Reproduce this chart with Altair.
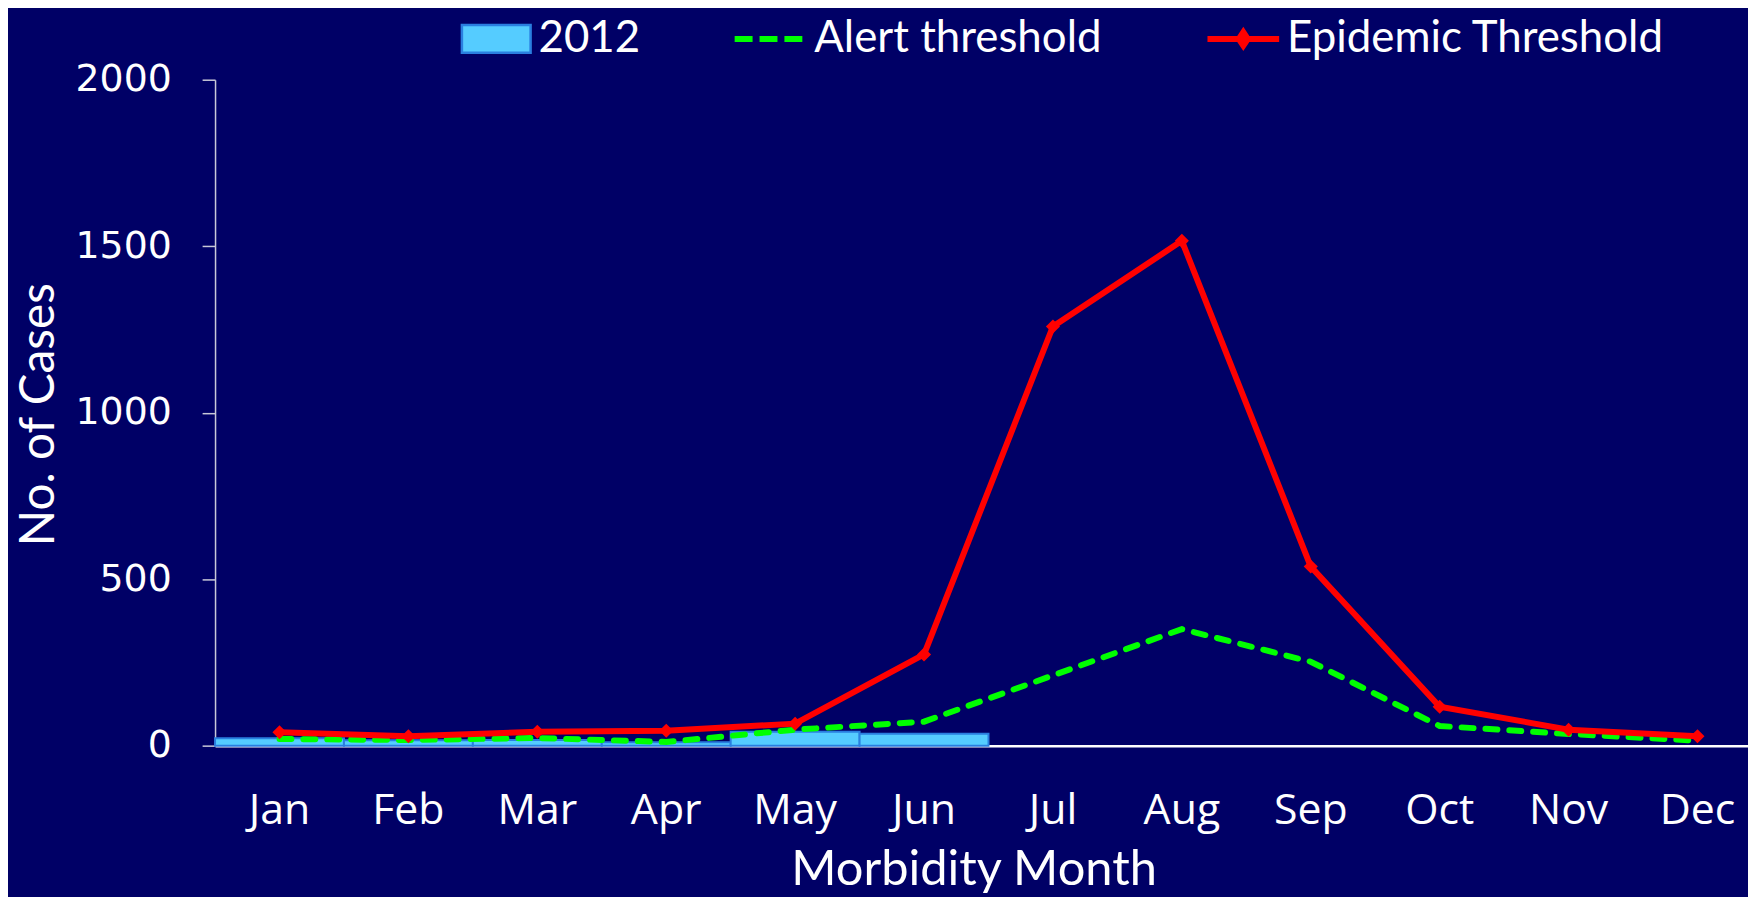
import altair as alt
import pandas as pd

months = ["Jan", "Feb", "Mar", "Apr", "May", "Jun", "Jul", "Aug", "Sep", "Oct", "Nov", "Dec"]
cases_2012 = [22, 16, 17, 10, 42, 36]
alert_threshold = [20, 17, 23, 11, 48, 72, 211, 350, 252, 59, 35, 15]
epidemic_threshold = [40, 28, 42, 45, 66, 274, 1259, 1516, 538, 117, 48, 28]
y_ticks = [0, 500, 1000, 1500, 2000]

bar_df = pd.DataFrame({"month": months[:len(cases_2012)], "value": cases_2012, "series": "2012"})
alert_df = pd.DataFrame({"month": months, "value": alert_threshold, "series": "Alert threshold"})
epi_df = pd.DataFrame({"month": months, "value": epidemic_threshold, "series": "Epidemic Threshold"})


def make_legend(x, path, label_offset, **kw):
    return alt.Legend(
        title=None,
        orient="none",
        legendX=x,
        legendY=-63,
        direction="horizontal",
        padding=0,
        symbolSize=900,
        symbolType=path,
        labelFont="Lato",
        labelFontSize=44,
        labelColor="white",
        labelOffset=label_offset,
        labelLimit=600,
        symbolOpacity=1,
        **kw,
    )


x_enc = alt.X(
    "month:N",
    sort=months,
    scale=alt.Scale(domain=months, paddingInner=0, paddingOuter=0, range=[0, 1554]),
    axis=alt.Axis(
        title="Morbidity Month",
        labelAngle=0,
        ticks=False,
        tickSize=0,
        labelPadding=78,
        labelBaseline="alphabetic",
        labelFont="Open Sans",
        labelFontSize=43,
        labelColor="white",
        labelOverlap=False,
        labelBound=False,
        labelFlush=False,
        domainColor="white",
        domainWidth=2.5,
        titleFont="Lato",
        titleFontSize=49,
        titleFontWeight="normal",
        titleColor="white",
        titleX=762,
        titleY=139,
        titleAlign="center",
        titleBaseline="alphabetic",
    ),
)

y_enc = alt.Y(
    "value:Q",
    scale=alt.Scale(domain=[0, 2000], nice=False),
    axis=alt.Axis(
        values=y_ticks,
        format="d",
        title="No. of Cases",
        grid=False,
        tickSize=13,
        tickColor="#c8c8d8",
        tickWidth=1.5,
        domainColor="#c8c8d8",
        domainWidth=1.5,
        labelPadding=31,
        labelFont="DejaVu Sans",
        labelFontSize=38,
        labelColor="white",
        titleFont="Lato",
        titleFontSize=48,
        titleFontWeight="normal",
        titleColor="white",
        titleAngle=270,
        titleX=-162,
        titleY=336,
        titleAlign="center",
        titleBaseline="alphabetic",
    ),
)

bars = alt.Chart(bar_df).mark_bar(
    stroke="#2a7fe0", strokeWidth=2, opacity=1
).encode(
    x=x_enc,
    y=y_enc,
    fill=alt.Fill(
        "series:N",
        scale=alt.Scale(domain=["2012"], range=["#55ccff"]),
        legend=make_legend(248, "M-1.467,-0.93H3.133V0.93H-1.467Z", 33,
                           symbolStrokeWidth=2.5, symbolStrokeColor="#2a7fe0"),
    ),
)

alert = alt.Chart(alert_df).mark_line(
    strokeWidth=6, strokeDash=[12, 12], strokeCap="round"
).encode(
    x=x_enc,
    y=y_enc,
    stroke=alt.Stroke(
        "series:N",
        scale=alt.Scale(domain=["Alert threshold"], range=["#00ff00"]),
        legend=make_legend(522, "M-1.467,0H3.333", 36,
                           symbolStrokeWidth=6, symbolDash=[18, 7]),
    ),
)

epidemic = alt.Chart(epi_df).mark_line(
    strokeWidth=6,
    point=alt.OverlayMarkDef(shape="diamond", size=200, filled=True, opacity=1),
).encode(
    x=x_enc,
    y=y_enc,
    color=alt.Color(
        "series:N",
        scale=alt.Scale(domain=["Epidemic Threshold"], range=["#ff0000"]),
        legend=make_legend(997, "M-1.467,0H3.333M0.933,-0.45L1.233,0L0.933,0.45L0.633,0Z", 36,
                           symbolStrokeWidth=6, symbolFillColor="#ff0000"),
    ),
)

chart = alt.layer(bars, alert, epidemic).resolve_scale(
    fill="independent", stroke="independent", color="independent"
).properties(
    width=1540,
    height=669,
    autosize=alt.AutoSizeParams(type="none"),
    padding={"left": 208, "top": 70, "right": 0, "bottom": 150},
    background="#000066",
).configure_view(stroke=None)

chart.save("out.html", embed_options={"renderer": "svg", "actions": False})
